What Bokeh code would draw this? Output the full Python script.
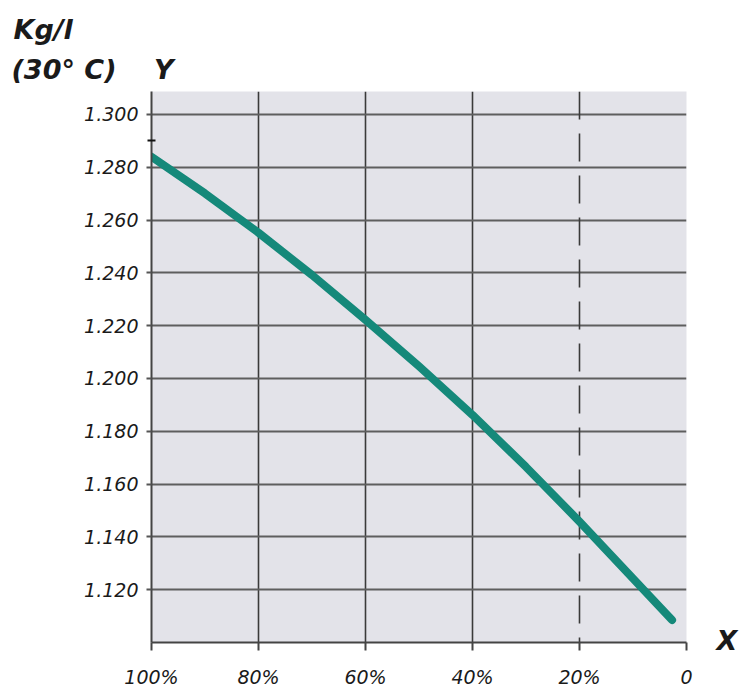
from bokeh.plotting import figure
from bokeh.models import Range1d, FixedTicker, LinearAxis, Title
from bokeh.embed import file_html
from bokeh.resources import INLINE

# ---- data ----
conc_pct = [100, 90, 80, 70, 60, 50, 40, 30, 20, 10, 2.7]
density = [1.2840, 1.2701, 1.2552, 1.2392, 1.2222, 1.2046, 1.1862, 1.1665, 1.1458, 1.1242, 1.1085]
x_ticks = [100, 80, 60, 40, 20, 0]
x_tick_labels = ["100%", "80%", "60%", "40%", "20%", "0"]
y_ticks = [1.120, 1.140, 1.160, 1.180, 1.200, 1.220, 1.240, 1.260, 1.280, 1.300]
y_tick_labels = ["1.120", "1.140", "1.160", "1.180", "1.200", "1.220", "1.240", "1.260", "1.280", "1.300"]
y_marker = [1.290]
unit_line1 = "Kg/l"
unit_line2 = "(30° C)"
y_name = "Y"
x_name = "X"

W, H = 740, 691
BL, BR, BT, BB = 151, 53, 91, 49
Y0, Y1 = 1.100, 1.3087
X0, X1 = 100, 0
FONT = "DejaVu Sans"

p = figure(width=W, height=H, output_backend="svg", toolbar_location=None,
           x_range=Range1d(X0, X1), y_range=Range1d(Y0, Y1),
           min_border_left=BL, min_border_right=BR, min_border_top=BT, min_border_bottom=BB)
p.background_fill_color = "#e3e3e9"
p.border_fill_color = "white"
p.outline_line_color = None

fh = H - BT - BB
def py_to_y(py):
    return Y1 - (py - BT) / fh * (Y1 - Y0)

# axes
xa = p.xaxis[0]
xa.ticker = FixedTicker(ticks=x_ticks)
xa.major_label_overrides = {t: l for t, l in zip(x_ticks, x_tick_labels)}
xa.axis_line_color = "#444444"
xa.axis_line_width = 2
xa.major_tick_line_color = "#444444"
xa.major_tick_line_width = 2
xa.major_tick_out = 8
xa.major_tick_in = 0
xa.minor_tick_line_color = None
xa.major_label_standoff = 15
xa.major_label_text_font = FONT
xa.major_label_text_font_style = "italic"
xa.major_label_text_font_size = "19px"
xa.major_label_text_color = "#1a1a1a"

ya = p.yaxis[0]
ya.ticker = FixedTicker(ticks=y_ticks, minor_ticks=y_marker)
ya.major_label_overrides = {t: l for t, l in zip(y_ticks, y_tick_labels)}
ya.axis_line_color = "#444444"
ya.axis_line_width = 2
ya.major_tick_line_color = "#555555"
ya.major_tick_line_width = 2
ya.major_tick_out = 5
ya.major_tick_in = 0
ya.minor_tick_line_color = "#111111"
ya.minor_tick_line_width = 2
ya.minor_tick_out = 4
ya.minor_tick_in = 4
ya.major_label_standoff = 8
ya.major_label_text_font = FONT
ya.major_label_text_font_style = "italic"
ya.major_label_text_font_size = "19px"
ya.major_label_text_color = "#1a1a1a"

# "X" name at the right end of the x axis, via a right axis with one label
x_pos = py_to_y(640)
ra = LinearAxis(ticker=FixedTicker(ticks=[x_pos]), major_label_overrides={x_pos: x_name})
ra.axis_line_color = None
ra.major_tick_line_color = None
ra.minor_tick_line_color = None
ra.major_tick_out = 0
ra.major_tick_in = 0
ra.major_label_standoff = 30
ra.major_label_text_font = FONT
ra.major_label_text_font_style = "bold italic"
ra.major_label_text_font_size = "27px"
ra.major_label_text_color = "#1a1a1a"
p.add_layout(ra, "right")

# unit lines and Y name above the plot
t2 = Title(text=unit_line2 + "\u00a0" * 4 + y_name, align="left", offset=-140, standoff=14,
           text_font=FONT, text_font_style="bold italic", text_font_size="27px", text_color="#1a1a1a")
t1 = Title(text=unit_line1, align="left", offset=-138, standoff=0,
           text_font=FONT, text_font_style="bold italic", text_font_size="27px", text_color="#1a1a1a")
p.add_layout(t2, "above")
p.add_layout(t1, "above")

# grids
p.xgrid.ticker = FixedTicker(ticks=[80, 60, 40, 0])
p.xgrid.grid_line_color = "#3a3a3a"
p.xgrid.grid_line_width = 1.6
p.ygrid.ticker = FixedTicker(ticks=y_ticks)
p.ygrid.grid_line_color = "#5e5e5e"
p.ygrid.grid_line_width = 2

# dashed 20% line
p.segment(x0=[20], y0=[Y1], x1=[20], y1=[Y0], line_color="#3a3a3a", line_width=1.6, line_dash="28 14")

# curve
p.line(conc_pct, density, line_color="#15897a", line_width=8, line_cap="round", line_join="round")

open("out.html", "w").write(file_html(p, INLINE))
